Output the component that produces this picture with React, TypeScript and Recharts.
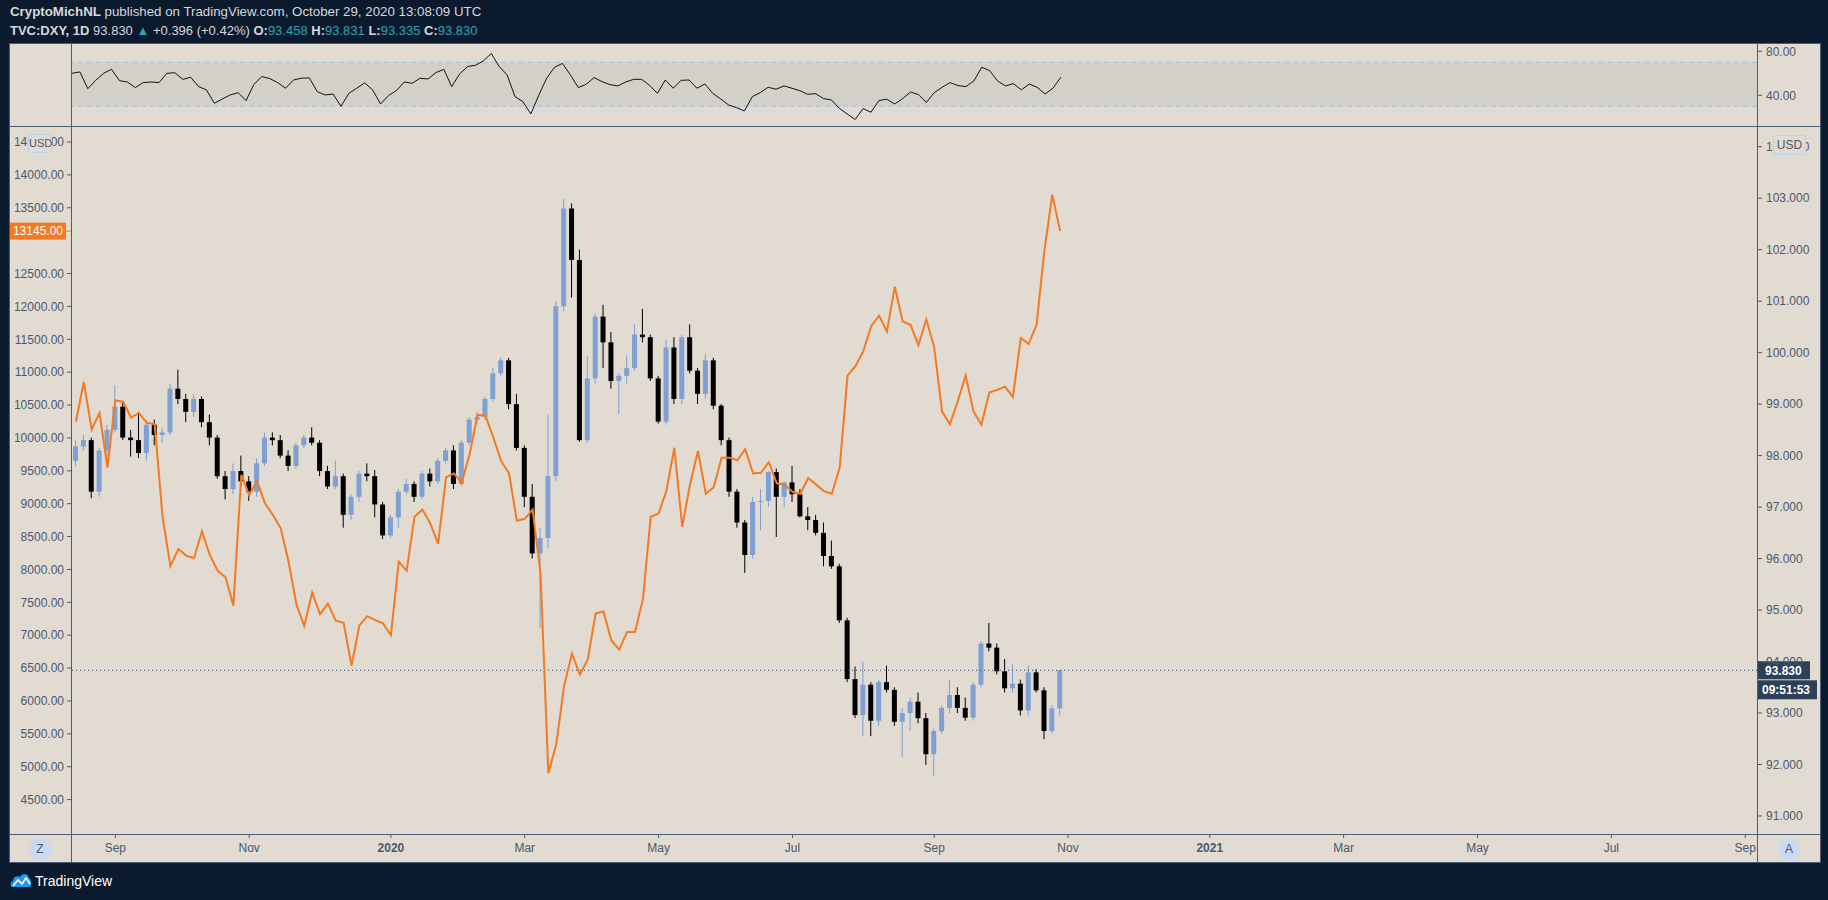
import React from "react";
import { ComposedChart, LineChart, Line, Bar, XAxis, YAxis, ReferenceLine, ReferenceArea } from "recharts";

// half-week slots on the time axis (data + empty future space)
const SLOTS = 214;

const dxyOpen = [
  97.9, 98.18, 98.3, 97.3, 98.1, 98.5, 98.95, 98.35, 98.3, 98.05,
  98.6, 98.4, 98.45, 99.3, 99.1, 98.85, 99.1, 98.65, 98.35, 97.6,
  97.35, 97.7, 97.5, 97.3, 97.85, 98.35, 98.3, 98.0, 97.8, 98.2,
  98.35, 98.25, 97.7, 97.4, 97.6, 96.85, 97.2, 97.65, 97.6, 97.05,
  96.45, 96.8, 97.3, 97.45, 97.2, 97.65, 97.5, 97.9, 98.1, 97.45,
  98.25, 98.7, 98.75, 99.1, 99.6, 99.85, 99.0, 98.15, 97.2, 96.1,
  96.4, 97.6, 100.9, 102.8, 101.8, 98.3, 99.5, 100.7, 100.2, 99.45,
  99.55, 99.7, 100.35, 100.3, 99.5, 98.66, 100.1, 99.1, 100.3, 99.65,
  99.2, 99.85, 98.97, 98.3, 97.3, 96.7, 96.07, 97.1, 97.12, 97.68,
  97.2, 97.48, 97.25, 96.82, 96.75, 96.5, 96.05, 95.85, 94.8, 93.66,
  92.96, 93.55, 92.85, 93.6, 93.45, 92.83, 93.0, 93.22, 92.9, 92.2,
  92.65, 93.1, 93.35, 93.1, 92.91, 93.55, 94.35, 94.27, 93.81, 93.48,
  93.57, 93.05, 93.79, 93.44, 92.65, 93.09,
];
const dxyHigh = [
  98.3, 98.4, 98.35, 98.15, 98.6, 99.37, 99.05, 98.5, 98.85, 98.7,
  98.7, 98.55, 99.4, 99.67, 99.2, 99.2, 99.15, 98.8, 98.4, 97.7,
  97.85, 98.0, 97.6, 97.95, 98.45, 98.45, 98.4, 98.1, 98.25, 98.4,
  98.55, 98.3, 97.8, 97.9, 97.65, 97.25, 97.7, 97.85, 97.72, 97.1,
  96.85, 97.35, 97.55, 97.5, 97.7, 97.75, 97.95, 98.15, 98.2, 98.3,
  98.75, 98.85, 99.15, 99.7, 99.91, 99.9, 99.2, 98.2, 97.45, 96.6,
  98.8, 101.0, 102.99, 102.9, 102.0, 99.93, 100.75, 100.93, 100.4, 99.6,
  99.95, 100.55, 100.85, 100.35, 99.55, 100.25, 100.3, 100.35, 100.55, 99.7,
  99.98, 99.9, 99.0, 98.35, 97.35, 96.75, 97.2, 97.35, 97.7, 97.75,
  97.5, 97.8, 97.35, 97.0, 96.85, 96.7, 96.35, 95.9, 94.85, 93.9,
  94.0, 93.6, 93.65, 93.92, 93.5, 93.1, 93.3, 93.4, 93.0, 92.7,
  93.15, 93.65, 93.5, 93.3, 93.6, 94.4, 94.75, 94.35, 94.05, 93.95,
  93.65, 93.92, 93.85, 93.5, 93.15, 93.83,
];
const dxyLow = [
  97.8, 98.1, 97.17, 97.2, 98.0, 98.45, 98.3, 97.98, 97.95, 97.9,
  98.2, 98.25, 98.4, 99.0, 98.65, 98.75, 98.55, 98.2, 97.55, 97.15,
  97.25, 97.4, 97.12, 97.2, 97.8, 98.2, 97.95, 97.7, 97.75, 98.15,
  98.2, 97.6, 97.35, 97.35, 96.6, 96.75, 97.1, 97.5, 96.8, 96.38,
  96.4, 96.6, 97.25, 97.1, 97.15, 97.4, 97.45, 97.85, 97.35, 97.4,
  98.2, 98.6, 98.7, 99.05, 99.55, 98.9, 98.1, 97.0, 96.0, 94.65,
  96.2, 97.5, 100.8, 101.07, 98.27, 98.25, 99.4, 99.7, 99.3, 98.8,
  99.4, 99.65, 100.2, 99.45, 98.62, 98.6, 99.0, 99.0, 99.6, 99.0,
  99.1, 98.9, 98.2, 97.2, 96.6, 95.72, 96.0, 96.55, 97.0, 96.42,
  97.0, 97.1, 96.8, 96.55, 96.45, 95.85, 95.8, 94.75, 93.6, 92.9,
  92.55, 92.55, 92.75, 93.4, 92.75, 92.14, 92.65, 92.8, 91.99, 91.77,
  92.6, 93.0, 93.0, 92.85, 92.85, 93.5, 94.2, 93.75, 93.4, 93.4,
  92.95, 92.95, 93.4, 92.49, 92.6, 92.95,
];
const dxyClose = [
  98.18, 98.3, 97.3, 98.1, 98.5, 98.95, 98.35, 98.3, 98.05, 98.6,
  98.4, 98.45, 99.3, 99.1, 98.85, 99.1, 98.65, 98.35, 97.6, 97.35,
  97.7, 97.5, 97.3, 97.85, 98.35, 98.3, 98.0, 97.8, 98.2, 98.35,
  98.25, 97.7, 97.4, 97.6, 96.85, 97.2, 97.65, 97.6, 97.05, 96.45,
  96.8, 97.3, 97.45, 97.2, 97.65, 97.5, 97.9, 98.1, 97.45, 98.25,
  98.7, 98.75, 99.1, 99.6, 99.85, 99.0, 98.15, 97.2, 96.1, 96.4,
  97.6, 100.9, 102.8, 101.8, 98.3, 99.5, 100.7, 100.2, 99.45, 99.55,
  99.7, 100.35, 100.3, 99.5, 98.66, 100.1, 99.1, 100.3, 99.65, 99.2,
  99.85, 98.97, 98.3, 97.3, 96.7, 96.07, 97.1, 97.12, 97.68, 97.2,
  97.48, 97.25, 96.82, 96.75, 96.5, 96.05, 95.85, 94.8, 93.66, 92.96,
  93.55, 92.85, 93.6, 93.45, 92.83, 93.0, 93.22, 92.9, 92.2, 92.65,
  93.1, 93.35, 93.1, 92.91, 93.55, 94.35, 94.27, 93.81, 93.48, 93.57,
  93.05, 93.79, 93.44, 92.65, 93.09, 93.83,
];
const btcClose = [
  10250, 10850, 10130, 10380, 9550, 10570, 10550, 10310, 10380, 10230,
  10210, 8800, 8050, 8310, 8210, 8170, 8580, 8220, 7980, 7880,
  7450, 9440, 9130, 9340, 9010, 8830, 8630, 8120, 7470, 7140,
  7650, 7320, 7480, 7220, 7190, 6540, 7150, 7290, 7230, 7180,
  7000, 8120, 7980, 8800, 8910, 8700, 8390, 9400, 9460, 9320,
  9750, 10350, 10340, 10010, 9650, 9460, 8740, 8770, 8910, 7950,
  4900, 5340, 6230, 6720, 6400, 6630, 7330, 7360, 6920, 6780,
  7050, 7050, 7540, 8800, 8850, 9200, 9850, 8650, 9300, 9800,
  9150, 9250, 9700, 9700, 9660, 9830, 9460, 9470, 9630, 9310,
  9290, 9180, 9150, 9390, 9290, 9190, 9150, 9550, 10950, 11090,
  11320, 11700, 11860, 11620, 12300, 11770, 11720, 11410, 11800, 11380,
  10400, 10210, 10560, 10950, 10400, 10200, 10690, 10730, 10780, 10620,
  11520, 11430, 11720, 12850, 13700, 13145,
];
const rsi14 = [
  60, 61.2, 46, 53.6, 60, 63.6, 53.3, 52.1, 47, 51.5,
  52.1, 51.5, 60, 60.5, 54.5, 56.4, 47.9, 44.9, 32.7, 36.7,
  40.3, 42.4, 35.2, 50, 57, 55.2, 51.5, 46.4, 53.9, 55.5,
  55.8, 43.3, 40.3, 41.2, 30, 41.8, 46.4, 51.2, 44.9, 32.1,
  39.7, 44.2, 52.1, 50.9, 55.5, 54.8, 60.6, 63.6, 47.9, 59.4,
  66.1, 67.3, 71.2, 78, 66.1, 58.5, 38.8, 34.2, 23, 40,
  55.5, 65.5, 69, 58.5, 47, 50, 56.1, 52.4, 49.7, 48.5,
  52.1, 54.5, 54.5, 49.1, 41.8, 53.9, 46.4, 53.6, 53.9, 46.4,
  50.3, 41.8, 36.7, 31.2, 28.8, 25.8, 38.8, 42.4, 47.3, 45.5,
  48.5, 46.4, 44.2, 40.9, 41.5, 37, 35.8, 28.2, 23, 18,
  27.9, 24.6, 35.2, 36.4, 32.1, 37, 43, 40.6, 33.6, 42.4,
  47.3, 51.5, 48.8, 47.9, 53, 65.5, 62.4, 53, 48.5, 50.6,
  44.9, 50.3, 47.3, 41.2, 46.4, 56.4,
];

const timeTicks = [5, 22, 40, 57, 74, 91, 109, 126, 144, 161, 178, 195, 212];
const timeLabels = ["Sep", "Nov", "2020", "Mar", "May", "Jul", "Sep", "Nov", "2021", "Mar", "May", "Jul", "Sep"];
// 13000 sits under the last-price tag, so TradingView drops it
const btcTicks = [
  4500, 5000, 5500, 6000, 6500, 7000, 7500, 8000, 8500, 9000, 9500,
  10000, 10500, 11000, 11500, 12000, 12500, 13500, 14000, 14500,
];
const dxyTicks = [91, 92, 93, 94, 95, 96, 97, 98, 99, 100, 101, 102, 103, 104];
const rsiTicks = [40, 80];

const rows = Array.from({ length: SLOTS }, (_, i) =>
  i < dxyClose.length
    ? {
        i,
        o: dxyOpen[i],
        h: dxyHigh[i],
        l: dxyLow[i],
        c: dxyClose[i],
        range: [dxyLow[i], dxyHigh[i]],
        btc: btcClose[i],
        rsi: rsi14[i],
      }
    : { i }
);

const lastClose = dxyClose[dxyClose.length - 1];
const lastBtc = btcClose[btcClose.length - 1];

const FONT = "'Liberation Sans', Arial, sans-serif";
const PAGE_BG = "#0c1a2e";
const PANE_BG = "#e1dbd1";
const BAND = "#d3d0c8";
const FRAME = "#4a5c76";
const TICK = "#4b5870";
const UP = "#7ea0d2";
const DOWN = "#000000";
const BTC = "#f37a22";
const TEAL = "#2aa5b5";
const HEAD = "#d5d8df";

function Candle(props: any) {
  const { x, y, width, height, payload } = props;
  if (!payload || payload.h == null) return null;
  const { o, h, l, c } = payload;
  const span = h - l || 1;
  const at = (v: number) => y + ((h - v) / span) * height;
  const cx = x + width / 2;
  const color = c >= o ? UP : DOWN;
  const top = at(Math.max(o, c));
  const bot = at(Math.min(o, c));
  return (
    <g>
      <line x1={cx} x2={cx} y1={y} y2={y + height} stroke={color} strokeWidth={1} />
      <rect x={cx - 2.5} y={top} width={5} height={Math.max(1, bot - top)} fill={color} />
    </g>
  );
}

function TimeTick({ x, y, payload }: any) {
  const label = timeLabels[timeTicks.indexOf(payload.value)];
  const year = /^\d{4}$/.test(label);
  return (
    <text x={x} y={y + 12} textAnchor="middle" fill={TICK} fontSize={12} fontFamily={FONT} fontWeight={year ? 700 : 400}>
      {label}
    </text>
  );
}

function BtcTag({ viewBox }: any) {
  const { x, y } = viewBox;
  return (
    <g>
      <rect x={x - 63} y={y - 8.5} width={57} height={17} fill={BTC} />
      <line x1={x - 6} x2={x} y1={y} y2={y} stroke={BTC} />
      <text x={x - 9} y={y + 4} textAnchor="end" fill="#ffffff" fontSize={12} fontFamily={FONT}>
        {lastBtc.toFixed(2)}
      </text>
    </g>
  );
}

function DxyTag({ viewBox }: any) {
  const { x, y, width } = viewBox;
  const r = x + width;
  return (
    <g>
      <rect x={r} y={y - 9} width={53} height={18} fill="#2c4159" />
      <text x={r + 8} y={y + 4.5} fill="#ffffff" fontSize={12} fontWeight={700} fontFamily={FONT}>
        {lastClose.toFixed(3)}
      </text>
      <rect x={r} y={y + 10} width={60} height={19} fill="#2c4159" />
      <text x={r + 5} y={y + 24} fill="#ffffff" fontSize={12} fontWeight={700} fontFamily={FONT}>
        09:51:53
      </text>
    </g>
  );
}

const tickStyle = { fill: TICK, fontSize: 12, fontFamily: FONT };

function abs(left: number, top: number, width: number, height: number, extra: any = {}) {
  return { position: "absolute" as const, left, top, width, height, ...extra };
}

export default function App() {
  return (
    <div style={abs(0, 0, 1828, 900, { background: PAGE_BG, fontFamily: FONT, overflow: "hidden" })}>
      <div style={abs(10, 4, 1000, 16, { color: HEAD, fontSize: 13.3, lineHeight: "16px" })}>
        <b>CryptoMichNL</b> published on TradingView.com, October 29, 2020 13:08:09 UTC
      </div>
      <div style={abs(10, 23, 1000, 16, { color: HEAD, fontSize: 13, lineHeight: "16px" })}>
        <b>TVC:DXY, 1D</b> 93.830 <span style={{ color: TEAL }}>▲</span> +0.396 (+0.42%) <b>O:</b>
        <span style={{ color: TEAL }}>93.458</span> <b>H:</b>
        <span style={{ color: TEAL }}>93.831</span> <b>L:</b>
        <span style={{ color: TEAL }}>93.335</span> <b>C:</b>
        <span style={{ color: TEAL }}>93.830</span>
      </div>

      <div style={abs(9, 43, 1812, 820, { background: PANE_BG })} />

      <div style={abs(9, 43, 1812, 84)}>
        <LineChart width={1812} height={84} data={rows} margin={{ top: 0, right: 0, bottom: 0, left: 63 }}>
          <XAxis dataKey="i" type="category" hide />
          <YAxis
            yAxisId="r"
            orientation="right"
            width={64}
            domain={[11.2, 87.5]}
            allowDataOverflow
            ticks={rsiTicks}
            tickFormatter={(v: number) => v.toFixed(2)}
            tick={tickStyle}
            tickSize={5}
            tickMargin={4}
            tickLine={{ stroke: FRAME }}
            axisLine={false}
          />
          <ReferenceArea yAxisId="r" y1={30} y2={70} fill={BAND} fillOpacity={1} stroke="none" />
          <ReferenceLine yAxisId="r" y={70} stroke="#9ec3ee" strokeDasharray="5 4" />
          <ReferenceLine yAxisId="r" y={30} stroke="#9ec3ee" strokeDasharray="5 4" />
          <Line yAxisId="r" dataKey="rsi" stroke="#111111" strokeWidth={1} dot={false} isAnimationActive={false} />
        </LineChart>
      </div>

      <div style={abs(9, 127, 1812, 736)}>
        <ComposedChart width={1812} height={736} data={rows} margin={{ top: 0, right: 0, bottom: 0, left: 0 }}>
          <XAxis
            dataKey="i"
            type="category"
            ticks={timeTicks}
            interval={0}
            height={29}
            tick={<TimeTick />}
            tickSize={4}
            tickLine={{ stroke: FRAME }}
            axisLine={false}
          />
          <YAxis
            yAxisId="btc"
            orientation="left"
            width={63}
            domain={[3977, 14728]}
            allowDataOverflow
            ticks={btcTicks}
            tickFormatter={(v: number) => v.toFixed(2)}
            tick={tickStyle}
            tickSize={5}
            tickMargin={3}
            tickLine={{ stroke: FRAME }}
            axisLine={false}
          />
          <YAxis
            yAxisId="dxy"
            orientation="right"
            width={64}
            domain={[90.65, 104.383]}
            allowDataOverflow
            ticks={dxyTicks}
            tickFormatter={(v: number) => v.toFixed(3)}
            tick={tickStyle}
            tickSize={5}
            tickMargin={4}
            tickLine={{ stroke: FRAME }}
            axisLine={false}
          />
          <ReferenceLine yAxisId="dxy" y={lastClose} stroke="#34435a" strokeDasharray="1 3" label={<DxyTag />} />
          <ReferenceLine yAxisId="btc" y={lastBtc} stroke="none" label={<BtcTag />} />
          <Bar yAxisId="dxy" dataKey="range" shape={<Candle />} barSize={5} isAnimationActive={false} />
          <Line yAxisId="btc" dataKey="btc" stroke={BTC} strokeWidth={2} dot={false} isAnimationActive={false} />
        </ComposedChart>
      </div>

      {/* pane frame */}
      <div style={abs(71, 43, 1, 820, { background: FRAME })} />
      <div style={abs(1757, 43, 1, 820, { background: FRAME })} />
      <div style={abs(9, 126, 1812, 1, { background: FRAME })} />
      <div style={abs(9, 834, 1812, 1, { background: FRAME })} />
      <div style={abs(9, 43, 1812, 820, { border: `1px solid ${FRAME}`, boxSizing: "border-box" })} />

      <div style={abs(28, 134, 22, 17, { border: "1px solid #b9d3f2", borderRadius: 3, background: PANE_BG, color: TICK, fontSize: 11, lineHeight: "17px", textAlign: "center" })}>
        USD
      </div>
      <div style={abs(1773, 135, 31, 18, { border: "1px solid #b9d3f2", borderRadius: 3, background: PANE_BG, color: TICK, fontSize: 12, lineHeight: "18px", textAlign: "center" })}>
        USD
      </div>

      <div style={abs(29, 838, 22, 22, { borderRadius: 11, background: "#c8dbf3", color: TICK, fontSize: 12, lineHeight: "22px", textAlign: "center" })}>
        Z
      </div>
      <div style={abs(1778, 838, 22, 22, { borderRadius: 11, background: "#c8dbf3", color: TICK, fontSize: 12, lineHeight: "22px", textAlign: "center" })}>
        A
      </div>

      <svg style={abs(10, 871, 22, 18)} viewBox="0 0 22 18">
        <path d="M2 16 C0 16 0 11 3 10 C3 6 7 4 10 6 C12 2 18 2 19 7 C22 8 22 16 19 16 Z" fill="#2196f3" />
        <polyline points="3,15 8,9 12,13 16,7 20,13" fill="none" stroke="#ffffff" strokeWidth={1.6} />
      </svg>
      <div style={abs(35, 872, 200, 18, { color: "#ffffff", fontSize: 14, lineHeight: "18px" })}>TradingView</div>
    </div>
  );
}
